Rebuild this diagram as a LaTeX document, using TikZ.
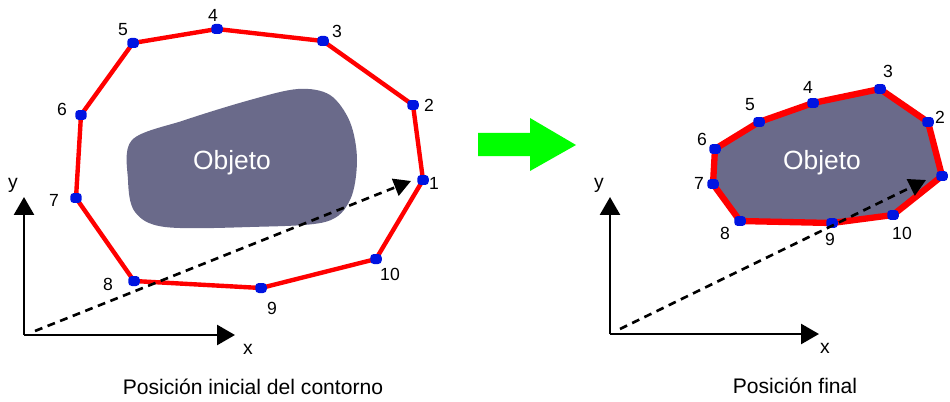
\documentclass[tikz,border=0pt]{standalone}
\usepackage{fontspec}
\setmainfont{Liberation Sans}
\usetikzlibrary{arrows.meta}
\definecolor{objgray}{RGB}{106,106,138}
\definecolor{ptblue}{RGB}{0,20,225}
\definecolor{bigarrow}{RGB}{0,255,0}
\tikzset{
  contour/.style={draw=red, line width=2.5pt, line join=round},
  vertex/.style={fill=ptblue, minimum width=0.23cm, minimum height=0.2cm,
                 inner sep=0pt, rounded corners=2pt},
  numlabel/.style={font=\fontsize{10}{12}\selectfont, inner sep=0pt},
  axislabel/.style={font=\fontsize{11}{13}\selectfont, inner sep=0pt},
  axis/.style={line width=1.5pt, -{Triangle[length=0.36cm, width=0.4cm]}},
  vector/.style={line width=1.5pt, dash pattern=on 4.5pt off 3.2pt,
                 -{Triangle[length=0.34cm, width=0.36cm]}},
  objtext/.style={text=white, font=\fontsize{15}{17}\selectfont},
  caption/.style={font=\fontsize{12}{14}\selectfont},
}
\begin{document}
\begin{tikzpicture}[x=0.02cm, y=-0.02cm]
  \useasboundingbox (0,0) rectangle (950,402);

  % left: initial contour
  \fill[objgray] plot[smooth cycle, tension=0.55] coordinates {
    (132,140) (185,120) (250,100) (298,89) (330,95) (350,122) (357,160)
    (350,200) (325,222) (250,227) (165,227) (135,212) (128,180)};
  \node[objtext] (objL) at (232,163) {Objeto};

  \foreach \n/\x/\y in {1/423/180, 2/413/105, 3/323/41, 4/217/29, 5/133/43,
                        6/81/115, 7/76/198, 8/134/281, 9/261/288, 10/376/259}
    \coordinate (L\n) at (\x,\y);
  \draw[contour] (L1) -- (L2) -- (L3) -- (L4) -- (L5) -- (L6) -- (L7)
    -- (L8) -- (L9) -- (L10) -- cycle;
  \foreach \n in {1,...,10}
    \node[vertex] (vl\n) at (L\n) {};
  \foreach \n/\x/\y in {1/434/183, 2/429/105, 3/337/31, 4/213/15, 5/123/30,
                        6/62/109, 7/54/200, 8/108/284, 9/272/308, 10/390/274}
    \node[numlabel] (nl\n) at (\x,\y) {\n};

  \coordinate (Lo) at (24,335);
  \coordinate (Lx) at (235,335);
  \coordinate (Ly) at (24,197);
  \draw[axis] (Lo) -- (Lx);
  \draw[axis] (Lo) -- (Ly);
  \node[axislabel] (xl) at (248,349) {x};
  \node[axislabel] (yl) at (13,185) {y};
  \coordinate (Ls) at (35,331);
  \coordinate (Le) at (411,181);
  \draw[vector] (Ls) -- (Le);

  \node[caption] (capL) at (253,387) {Posición inicial del contorno};

  % green arrow
  \fill[bigarrow] (478,133) -- (530,133) -- (530,118) -- (576,145)
    -- (530,171) -- (530,156) -- (478,156) -- cycle;

  % right: final contour
  \foreach \n/\x/\y in {1/942/176, 2/928/122, 3/880/89, 4/813/103, 5/759/122,
                        6/715/149, 7/713/184, 8/740/221, 9/832/223, 10/893/215}
    \coordinate (R\n) at (\x,\y);
  \draw[contour, line width=3.6pt, fill=objgray] (R1) -- (R2) -- (R3) -- (R4)
    -- (R5) -- (R6) -- (R7) -- (R8) -- (R9) -- (R10) -- cycle;
  \node[objtext] (objR) at (822,163) {Objeto};
  \foreach \n in {1,...,10}
    \node[vertex] (vr\n) at (R\n) {};
  \foreach \n/\x/\y in {2/940/117, 3/888/71, 4/808/87, 5/750/105,
                        6/702/139, 7/699/183, 8/725/233, 9/830/239, 10/902/233}
    \node[numlabel] (nr\n) at (\x,\y) {\n};

  \coordinate (Ro) at (610,334);
  \coordinate (Rx) at (819,334);
  \coordinate (Ry) at (610,197);
  \draw[axis] (Ro) -- (Rx);
  \draw[axis] (Ro) -- (Ry);
  \node[axislabel] (xr) at (825,348) {x};
  \node[axislabel] (yr) at (599,185) {y};
  \coordinate (Rs) at (620,329);
  \coordinate (Re) at (926,180);
  \draw[vector] (Rs) -- (Re);

  \node[caption] (capR) at (795,386) {Posición final};
\end{tikzpicture}
\end{document}
